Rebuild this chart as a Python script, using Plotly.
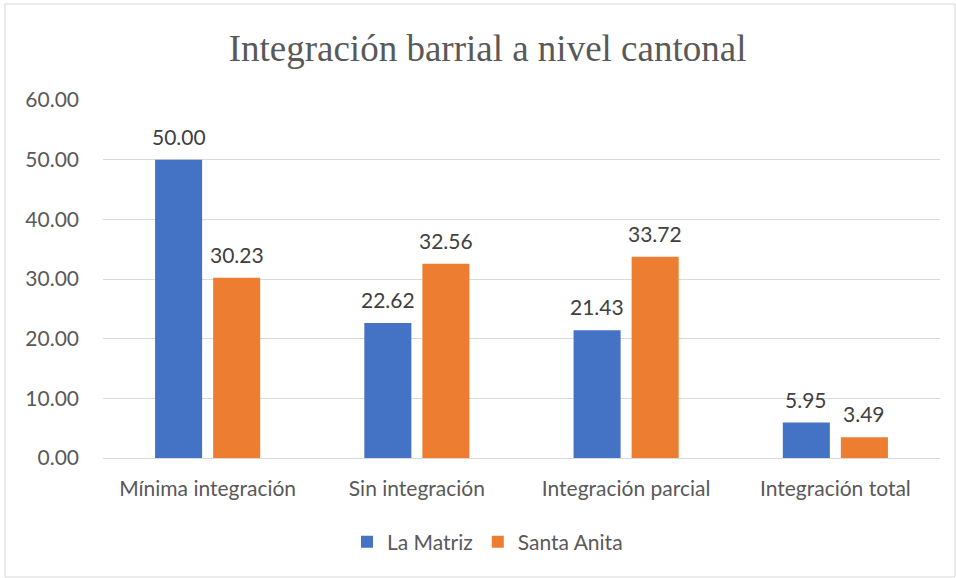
import plotly.graph_objects as go

categories = ["Mínima integración", "Sin integración", "Integración parcial", "Integración total"]
la_matriz = [50.00, 22.62, 21.43, 5.95]
santa_anita = [30.23, 32.56, 33.72, 3.49]
series_names = ["La Matriz", "Santa Anita"]
y_ticks = [0, 10, 20, 30, 40, 50, 60]

W, H = 956, 578
L, R, T, B = 103, 16, 100, 120
pw, ph = W - L - R, H - T - B

def px_x(p):
    return (p - L) / pw

def px_y(p):
    return (H - B - p) / ph

FONT = "Lato"
series = [(series_names[0], la_matriz, "#4472C4", -29), (series_names[1], santa_anita, "#ED7D31", 29)]

fig = go.Figure()
annotations = []
for name, vals, col, dx in series:
    fig.add_trace(go.Bar(
        x=categories, y=vals, name=name, marker_color=col, marker_line_width=0,
        hoverinfo="skip",
    ))
    for c, v in zip(categories, vals):
        annotations.append(dict(x=c, y=v, xref="x", yref="y", text=f"{v:.2f}", showarrow=False,
                                yanchor="bottom", xanchor="center", xshift=dx, yshift=9,
                                font=dict(family=FONT, size=21, color="#404040")))

fig.update_layout(
    width=W, height=H,
    margin=dict(l=L, r=R, t=T, b=B),
    paper_bgcolor="white", plot_bgcolor="white",
    barmode="group", bargap=0.445, bargroupgap=0.19,
    title=dict(text="Integración barrial a nivel cantonal", x=0.51, xref="container",
               y=1 - 48 / H, yref="container", yanchor="middle", xanchor="center",
               font=dict(family="Liberation Serif", size=37, color="#595959")),
    yaxis=dict(range=[0, 60], tickvals=y_ticks, tickformat=".2f", showgrid=True,
               gridcolor="#d9d9d9", gridwidth=1, zeroline=False, showline=False,
               tickfont=dict(family=FONT, size=21, color="#595959"),
               ticklabelstandoff=23),
    xaxis=dict(showline=True, linecolor="#d9d9d9", linewidth=1,
               tickfont=dict(family=FONT, size=21, color="#595959"),
               ticklabelstandoff=12),
    legend=dict(orientation="h", x=px_x(487.5), xanchor="center", y=px_y(542), yanchor="middle",
                font=dict(family=FONT, size=21, color="#595959"), itemwidth=30,
                traceorder="normal"),
    annotations=annotations,
    shapes=[dict(type="rect", xref="paper", yref="paper",
                 x0=px_x(5), x1=px_x(955), y0=px_y(577), y1=px_y(4),
                 line=dict(color="#d9d9d9", width=1), fillcolor="rgba(0,0,0,0)", layer="below")],
)

fig.write_html("out.html", config={"displayModeBar": False},
               post_script="document.body.style.margin='0';document.body.style.padding='0';")
